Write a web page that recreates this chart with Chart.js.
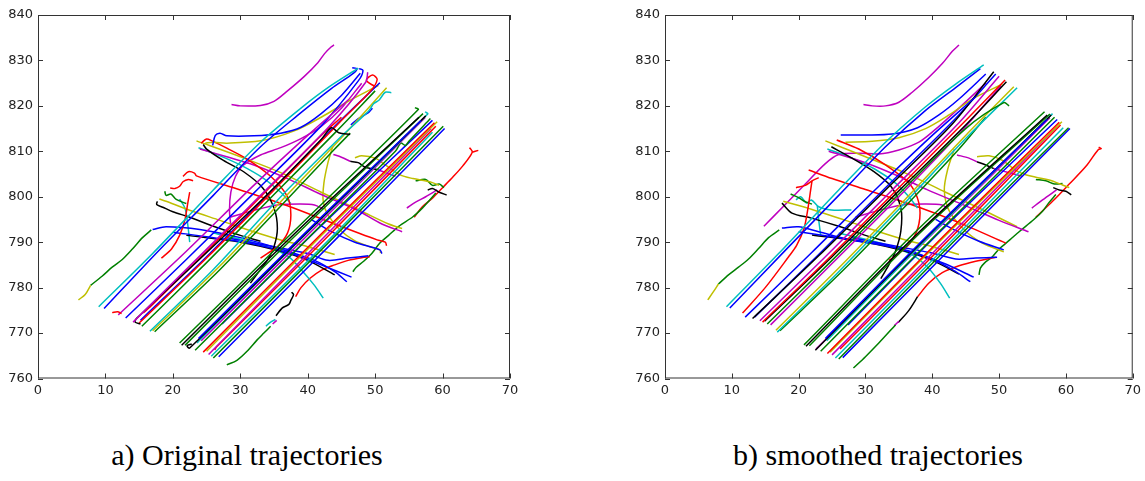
<!DOCTYPE html>
<html>
<head>
<meta charset="utf-8">
<script src="https://cdn.jsdelivr.net/npm/chart.js@4.4.1/dist/chart.umd.min.js"></script>
<style>
body { margin: 0; background: #fff; width: 1145px; height: 481px; position: relative; overflow: hidden; }
canvas { position: absolute; top: 0; }
.cap { position: absolute; top: 440px; font-family: "Liberation Serif", "Times New Roman", serif; font-size: 30px; line-height: 30px; color: #000; white-space: nowrap; transform: translateX(-50%); }
</style>
</head>
<body>
<canvas id="origChart" width="540" height="400" style="left:0"></canvas>
<canvas id="smoothChart" width="518" height="400" style="left:627px"></canvas>
<div class="cap" style="left:247px">a) Original trajectories</div>
<div class="cap" style="left:878px">b) smoothed trajectories</div>
<script>
// axis ticks
const xTicks = [0, 10, 20, 30, 40, 50, 60, 70];
const yTicks = [760, 770, 780, 790, 800, 810, 820, 830, 840];

// ---- a) original trajectories ----
// lanes going north-east, upper bundle
const origLanesA = [
  [[9,775.8],[17,787.5],[26,801.5],[33,812],[39,819.5],[43,824],[47.5,828.3]],
  [[9.8,775.4],[18,788.3],[26,800.3],[33,811],[39,818.5],[43.5,823.8],[46.8,827.2],[47.3,828.2],[46.6,828.4]],
  [[11,774.5],[11.8,774.7],[12.4,774.3]],
  [[11.9,774],[22,788],[32,802.5],[40,813.5],[46,821.3]],
  [[13,773.3],[22,786.2],[32,800.8],[42,815.6],[47.5,825.5],[48.2,827.8],[47.6,828.2]],
  [[14.1,772.4],[23,785.5],[33,800.3],[43,815.2],[48.6,825.2],[48.9,827.4]],
  [[15.2,772],[14.4,772.4],[14.6,773.2],[24,786.3],[34,800.5],[42,812.6],[43.5,815.2],[44.6,814.1],[46.3,813.7]],
  [[15,772.2],[25,786.5],[35,801.5],[45,816.8],[49.3,823.2],[50.3,825.8],[49.6,826.8],[48.7,825.6],[49.9,824.3]],
  [[15.2,772.8],[25,786.8],[35,801.8],[44,815.5],[50.7,825.1]],
  [[15.4,771.5],[25,785.5],[35,800.5],[44,814],[50,823.3]],
  [[16.6,770.4],[26,784],[36,800],[45,813.3],[49,818.8],[49.8,820.5],[50.6,821.3],[51.5,823],[52.4,822.9]],
  [[17,770.5],[27,784.8],[37,800.5],[45,813],[51.7,824]],
  [[17.3,770.3],[27,784],[37,799.5],[44,810.5],[46.3,814]],
  [[15.6,774.4],[17,776.3],[25,788],[34,801.5],[42,813.5],[45,817.5]],
  [[46.4,815.8],[47.5,817.2],[49,818.5],[49.6,819.5]]
];
const origLanesAColors = ['c','b','r','m','b','m','k','r','b','g','c','y','g','r','b'];

// lanes going north-east, lower bundle
const origLanesB = [
  [[21,767.8],[38,792.5],[56.4,819.2],[55.9,819.6]],
  [[21.3,767.3],[38,791.8],[56.5,817.5]],
  [[21.8,767.3],[38,791.2],[57.1,818.3]],
  [[23.8,768.8],[40,792.6],[56.8,816.8]],
  [[22.8,767.6],[22.1,767.2],[22.5,766.7],[40,792.3],[57.5,817.8]],
  [[23.6,767.8],[24,768.5],[40,792.2],[57.8,818.2],[57.4,818.7]],
  [[24.2,768.3],[40,791.6],[57.4,817.4]],
  [[23.3,766.2],[41,792.3],[53,810],[53.8,811.8],[54.5,811.3],[55,812.2],[58.2,817.2]],
  [[27.3,772],[42,793.6],[58.5,816.8]],
  [[24.5,765.8],[42,791.8],[58.8,816.3]],
  [[25,766],[42,791.4],[59.2,816.5]],
  [[25.3,765.3],[42,790.5],[58.3,815]],
  [[26.2,766.3],[26.5,767],[43,791.3],[59,815.5]],
  [[25.7,764.9],[43,790.3],[58.5,814.2]],
  [[26,764.5],[43,789.8],[60.1,815.5]],
  [[26.8,764.8],[44,790.4],[60.3,815]]
];
const origLanesBColors = ['g','k','g','b','k','c','m','g','b','r','y','m','r','c','g','b'];

// crossing trajectories, arcs and turns
const origCross = [
  [[28.7,820.3],[30,820],[33,820.1],[35,821],[37,823.3],[39.5,826.5],[41.5,829.5],[42.5,831.5],[43.5,833],[43.9,833.4]],
  [[25.9,811.3],[26.3,813.5],[27,814],[28,813.4],[32,813.4],[36,814],[39,815.3],[42,818.3],[45,822.3],[47.8,827.2]],
  [[24.8,811.8],[26,812],[28,811.8],[33,812.3],[38,814.5],[42,817.5],[46,821],[50.5,824.5]],
  [[24.2,811.8],[25,812.7],[25.8,812.3],[28,810.7],[31,808.3],[34.5,804.5],[37,800],[37.5,796],[37,792],[35.5,789],[34,787.5],[33,786.5]],
  [[24.5,811.5],[25,810.5],[27.5,808],[30.5,805.5],[33.3,802],[35,797.5],[35.5,793],[35,789],[34,786],[32.5,783],[31.5,781]],
  [[24,810.5],[28,808.8],[32,807],[37,804],[42,800.5],[47,797.3],[51,794],[54,792.3]],
  [[23.5,812.3],[30,808.8],[36,805.3],[42,801],[48,796.8],[52,794],[54,793]],
  [[23.8,810.8],[27,809],[30,807],[33.5,804],[36,801],[37.5,798.5]],
  [[21.5,804.5],[22.3,805.5],[23.2,805.2],[23.5,804.6],[30,801.5],[37.4,797.8],[44,794],[50.3,790.5],[51.5,790],[51.7,789.2]],
  [[19.6,801.9],[20.3,801.8],[21,802.3],[21.5,803.3],[22.3,803.8],[23,803.5]],
  [[18.3,786.5],[19.8,788.5],[21,791.5],[21.8,795],[22.2,798.5],[22.5,801]],
  [[17,792.8],[19,793.4],[24,792.8],[30,791],[36,788.5],[41,786],[44,783.5],[45.8,781.3]],
  [[20,792.2],[26,791],[32,789.6],[38,787.3],[42,785],[46.5,782.3]],
  [[22,791.5],[30,790],[36,788],[40,786],[44,782.8]],
  [[28,791],[35,789],[40,787.5],[43,786],[46,786.5],[49,787]],
  [[26,792],[33,789.5],[37,787],[39,784],[41,780.5],[42.3,777.7]],
  [[40.5,795],[43.3,792.5],[47,790],[50.7,788.3],[51,787.5]],
  [[18,799.5],[19,799],[22,797.3],[27,794.8],[32,792.3],[36,790.5],[40,789],[44,787.3]],
  [[17.7,799],[17.6,798.3],[18.5,797.7],[20,796.7],[22.5,795.5],[26,793.5],[30,791.5],[33,790.2]],
  [[18.8,801.2],[19,800.3],[19.7,800.6],[20.5,799.4],[22,798.5]],
  [[21,799.5],[21.8,797.5],[22.2,794],[22.5,790]],
  [[28.6,793.5],[28.4,797],[28.6,801],[29.3,804.5],[30.5,807],[33,809.2],[36,810.8],[39,812.8],[42,815.5],[45,819.5],[48,825]],
  [[28.5,795.5],[32,797],[35.5,798.2],[38.9,798.4],[41,798.2],[42.3,797.3]],
  [[43.7,811],[43,807.5],[42.4,803],[42.3,799],[43,796],[44.8,792.7],[47,790.3],[49.2,789],[50.7,788.3],[50.8,787.6]]
];
const origCrossColors = ['m','b','y','r','k','m','y','c','r','r','r','b','b','k','b','c','b','y','k','g','c','m','m','y'];

// short and broken tracks at the edges
const origSide = [
  [[6,777.3],[7,778.5],[7.8,780.5]],
  [[7.8,780.5],[9.5,782.5],[11,784.5],[12.5,786.2],[14,788.5],[15.5,791],[16.8,792.7]],
  [[28,763],[29.5,764],[31,766],[32.5,768.5],[33.5,770],[34.5,771.5]],
  [[33.8,771.5],[34.4,772.3],[35.2,773]],
  [[34.8,772],[35.4,772.8]],
  [[35.3,773.8],[36.2,775.5],[37.2,776.3],[37.5,777.2],[37.9,778.5],[37.6,779]],
  [[38.2,778],[39,780],[40.3,782],[42,783.8],[44,785],[46,786],[48,786.6],[49.2,786.8]],
  [[43.8,809.3],[45,808.7],[46.3,807.8]],
  [[46.3,807.8],[47.5,807.5],[48.5,806.5],[50.3,806]],
  [[50.3,806],[51.7,805.2],[53,804.5]],
  [[47,808.6],[48,809],[50,808.5],[51.5,807],[53.7,804.8],[55.6,804],[58.1,803.3],[59.5,802.5]],
  [[56,803.5],[57.5,803.8],[58.5,802.5],[59.5,802.8],[60.2,802]],
  [[57.8,801.5],[58.5,801.8],[59.5,801],[60.6,800.4]],
  [[54.7,797.5],[56,798.8],[57.5,800],[59.2,801.5]],
  [[46.7,783.5],[47.2,784.5],[48.3,785.8],[49.5,787.5],[50.7,789.8],[52,791.5],[53.5,793.5],[55.6,795.6],[57,797.5],[58.1,799.3],[59,800.8]],
  [[55.8,795.5],[57,797.8],[58.5,799.7],[60,802],[61.5,804.3],[63,806.8],[64.4,809.8],[64,810.8]],
  [[64.4,809.8],[65.3,810.2]]
];
const origSideColors = ['y','g','g','c','m','k','r','m','k','m','y','g','k','m','g','r','r'];

// ---- b) smoothed trajectories ----
const smoothLanesA = [
  [[9.2,775.8],[17,787.5],[26,801.5],[33,812],[39,819.8],[43.5,824.8],[47.7,829]],
  [[9.7,775.5],[18,788.2],[26,800.3],[33,811],[39,819],[43.5,824],[47.2,828.2]],
  [[12,773.5],[22,787.8],[32,802.3],[40,813.5],[46.5,822]],
  [[13.1,773.2],[23,787],[33,801.5],[43,816],[49.2,827.5]],
  [[13.4,773.5],[23,787.3],[33,802],[43,816.5],[49.5,827]],
  [[14.2,772.7],[24,786.8],[34,801.5],[44,816.3],[50,826.5]],
  [[14.6,772.4],[25,787.2],[35,802],[45,816.8],[50.9,825.7]],
  [[14.9,772.6],[25,786.8],[35,801.3],[45,815.8],[51.1,825.3]],
  [[15.3,772],[25,786],[35,800.6],[45,815],[50.7,820.7],[51.5,820]],
  [[15.8,771.8],[25,785.3],[35,800],[44,813.8],[50.3,824.5]],
  [[16.6,770.6],[26,784.3],[36,799.5],[45,813.5],[52.2,824.2]],
  [[16.8,770.2],[26,783.5],[36,798.8],[45,812.8],[52.7,824]],
  [[17.2,770.5],[27,784.3],[37,799.5],[44,810.5],[48,817.5]]
];
const smoothLanesAColors = ['c','b','b','k','b','m','r','k','g','m','y','c','g'];

const smoothLanesB = [
  [[20.8,767.4],[38,793],[56.8,818.7]],
  [[21.1,767.1],[38,792.2],[57.2,818]],
  [[21.6,767.2],[38,791.8],[57.6,818.2]],
  [[24,768.8],[40,792.5],[57.2,817]],
  [[22.5,766.2],[40,792.3],[57.8,818]],
  [[24.2,768.3],[40,792],[58,818.3]],
  [[22.6,766.5],[40,791.8],[57.6,817.4]],
  [[23.3,766],[41,792.3],[58.3,817.5]],
  [[27.4,771.8],[42,793.5],[58.7,817]],
  [[24.3,765.5],[42,791.8],[59,816.4]],
  [[24.7,765.8],[42,791.5],[59.4,816.5]],
  [[25,765.2],[42,790.5],[58.6,815.3]],
  [[26.2,766.5],[43,791.3],[59.2,815.8]],
  [[25.5,764.5],[43,790.5],[59.6,815.2]],
  [[26,764.3],[43,789.8],[60.4,815.2]],
  [[26.6,764.6],[44,790.5],[60.6,815]]
];
const smoothLanesBColors = ['g','k','g','b','k','c','m','g','b','r','y','m','r','c','g','b'];

const smoothCross = [
  [[29.7,820.3],[31,820],[33,820],[35,820.8],[37,823],[39.5,826.3],[41.5,829.3],[43,832],[44,833.4]],
  [[26.3,813.6],[30,813.6],[34,813.8],[37.8,815.2],[41,818],[44,821.5],[48,827]],
  [[27,812],[31,812.2],[35,813],[39,815],[42.5,818],[46,821.5],[50.5,824.8]],
  [[25.7,812.5],[29,810.5],[33,807],[36.5,803],[38,798.6],[38,794],[36.8,790],[35,787.5],[33.5,786]],
  [[24.9,811],[28,808.5],[31,805.8],[33.8,802.3],[35.3,797.5],[35.3,792.5],[34.5,788],[33.5,785],[32.3,782]],
  [[24.5,810],[30,807.5],[35,804.5],[39.3,801.5],[45,798],[50,794.8],[54.4,792.3]],
  [[24,812.3],[30,808.8],[36,805.2],[42,801],[48,796.8],[52.7,793.4]],
  [[24.3,810.5],[28,808.5],[31.5,806],[34.5,803],[36.5,800],[37.8,797.5]],
  [[21.5,805.9],[25,804],[30,801.6],[37.8,797.8],[44,794.3],[51,789.8]],
  [[19.6,802],[21,802.5],[22,803.5],[23,804.2]],
  [[11.6,774.4],[15,780],[18.5,786.8],[19.7,789.3],[20.8,793],[21.4,797.5],[21.8,801.5],[22,803.5]],
  [[17.5,793.1],[20,793.4],[23,792.3],[27.9,790.5],[34.9,788.7],[40,786.3],[43.5,783.5],[45.7,781.3]],
  [[20,792.3],[26,791],[32,789.6],[38,787.3],[42,785.2],[46.2,782.3]],
  [[22,791.6],[30,790],[36,788],[40,786],[44,783]],
  [[28,791],[35,789],[40,787.6],[43.5,786.3],[46.5,786.5],[49.7,786.7]],
  [[26,792],[33,789.5],[37,787.2],[39.3,784.5],[41.2,781],[42.6,777.7]],
  [[40.5,795],[43.3,792.7],[47,790.2],[50.7,788.3]],
  [[17.7,799],[22,797.2],[27,794.8],[32,792.3],[36,790.5],[40,789],[44,787.3]],
  [[17.5,798.6],[19,796.4],[21.9,795.3],[26,793.5],[30,791.5],[33,790.2]],
  [[18.8,800.6],[20,799.8],[21,798.9],[22,798.4]],
  [[19.6,799.3],[20.3,800],[21.2,798.6],[21.9,799.3],[23,797.8],[24.9,797.1],[27.9,797.1]],
  [[22.8,798],[23,795],[23.3,791.5]],
  [[14.8,793.5],[18,798.3],[21,802.8],[24,807.3],[26,809.3],[29,809.6],[32,809.4],[35,810.3],[38,812],[41,815.5],[44,819.5],[48,825]],
  [[28.5,795.5],[32,797],[35.5,798.2],[38.9,798.4],[41.5,798.2],[42.3,797.4]],
  [[43.3,810.5],[42.3,806],[41.8,801.5],[42.5,797],[44.8,792.7],[47.5,789.8],[50.7,787.9]]
];
const smoothCrossColors = ['m','b','y','r','k','m','y','c','r','r','r','b','b','k','b','c','b','y','k','g','c','c','m','m','y'];

const smoothSide = [
  [[6.4,777.3],[7.2,779],[8,780.8]],
  [[8,780.8],[9.5,782.8],[11,784.5],[12.5,786.3],[14,788.6],[15.5,791],[17.1,792.7]],
  [[28.2,762.3],[30,764.8],[32,767.8],[34.5,771.8]],
  [[34.3,771.6],[35,772.6]],
  [[34.9,772.3],[36.5,775],[37.8,778]],
  [[37.8,778],[39.5,781],[41.5,783.3],[44,784.8],[46.5,785.8],[49.5,786.7]],
  [[43.7,809.2],[45.5,808.5],[46.7,807.7]],
  [[46.7,807.7],[48,807],[49.2,806.2]],
  [[49.2,806.2],[51.5,805.3],[53.5,804.5]],
  [[46.7,808.8],[48.5,809],[50.5,808],[52.5,805.8],[54.1,804.8],[55.5,804.3],[57.5,803.7],[59.5,802.6],[60.5,802]],
  [[55.5,803.8],[57,803.5],[58.3,802.8],[59.5,802.9]],
  [[58.1,802],[59,801.5],[60,801.2],[60.8,800.4]],
  [[54.9,797.5],[56.5,799.3],[58.6,801.5]],
  [[47,782.8],[47.2,784.3],[47.8,785.4],[49,786.8],[50,788.5],[51.6,790.5],[53,792.3],[55.2,795],[56.5,796.8],[57.4,798.6],[58.5,800.5]],
  [[55.5,795.5],[58,799],[60.5,802.8],[63,806.7],[64.8,810.3],[65.3,810.6],[64.9,810.9]]
];
const smoothSideColors = ['y','g','g','m','k','r','m','k','m','y','g','k','m','g','r'];

// matplotlib classic colour letters
const palette = { b: '#0000ff', g: '#008000', r: '#ff0000', c: '#00bfbf', m: '#bf00bf', y: '#bfbf00', k: '#000000' };

function buildDatasets(groups) {
  const sets = [];
  groups.forEach(([tracks, colors]) => {
    tracks.forEach((t, i) => {
      sets.push({
        data: t.map(p => ({ x: p[0], y: p[1] })),
        borderColor: palette[colors[i]],
        showLine: true,
        pointRadius: 0,
        borderWidth: 1.5,
        tension: 0.3
      });
    });
  });
  return sets;
}

// frame on all four sides with inward ticks, like the matplotlib classic style
const framePlugin = {
  id: 'frame',
  afterDraw(chart) {
    const { ctx, chartArea: a, scales: { x, y } } = chart;
    ctx.save();
    ctx.strokeStyle = '#333';
    ctx.lineWidth = 1;
    ctx.strokeRect(a.left + 0.5, a.top + 0.5, a.right - a.left - 1, a.bottom - a.top - 1);
    ctx.beginPath();
    xTicks.forEach(v => {
      const px = Math.round(x.getPixelForValue(v)) + 0.5;
      ctx.moveTo(px, a.bottom); ctx.lineTo(px, a.bottom - 5);
      ctx.moveTo(px, a.top); ctx.lineTo(px, a.top + 5);
    });
    yTicks.forEach(v => {
      const py = Math.round(y.getPixelForValue(v)) + 0.5;
      ctx.moveTo(a.left, py); ctx.lineTo(a.left + 5, py);
      ctx.moveTo(a.right, py); ctx.lineTo(a.right - 5, py);
    });
    ctx.stroke();
    ctx.restore();
  }
};

function makeChart(id, groups, rightPad) {
  const tickFont = { family: 'DejaVu Sans', size: 13 };
  return new Chart(document.getElementById(id), {
    type: 'scatter',
    data: { datasets: buildDatasets(groups) },
    options: {
      responsive: false,
      animation: false,
      events: [],
      layout: { padding: { top: 15, right: rightPad, left: 0, bottom: 0 } },
      plugins: { legend: { display: false }, tooltip: { enabled: false } },
      scales: {
        x: {
          type: 'linear', min: 0, max: 70,
          afterBuildTicks: s => { s.ticks = xTicks.map(v => ({ value: v })); },
          afterFit: s => { s.height = 21.5; },
          grid: { display: false, drawTicks: false },
          border: { display: false },
          ticks: { font: tickFont, color: '#222', padding: 4, maxRotation: 0 }
        },
        y: {
          type: 'linear', min: 760, max: 840,
          afterBuildTicks: s => { s.ticks = yTicks.map(v => ({ value: v })); },
          afterFit: s => { s.width = 38; },
          grid: { display: false, drawTicks: false },
          border: { display: false },
          ticks: { font: tickFont, color: '#222', padding: 5 }
        }
      }
    },
    plugins: [framePlugin]
  });
}

const origChart = makeChart('origChart', [
  [origLanesA, origLanesAColors],
  [origLanesB, origLanesBColors],
  [origCross, origCrossColors],
  [origSide, origSideColors]
], 30);

const smoothChart = makeChart('smoothChart', [
  [smoothLanesA, smoothLanesAColors],
  [smoothLanesB, smoothLanesBColors],
  [smoothCross, smoothCrossColors],
  [smoothSide, smoothSideColors]
], 8);
</script>
</body>
</html>
